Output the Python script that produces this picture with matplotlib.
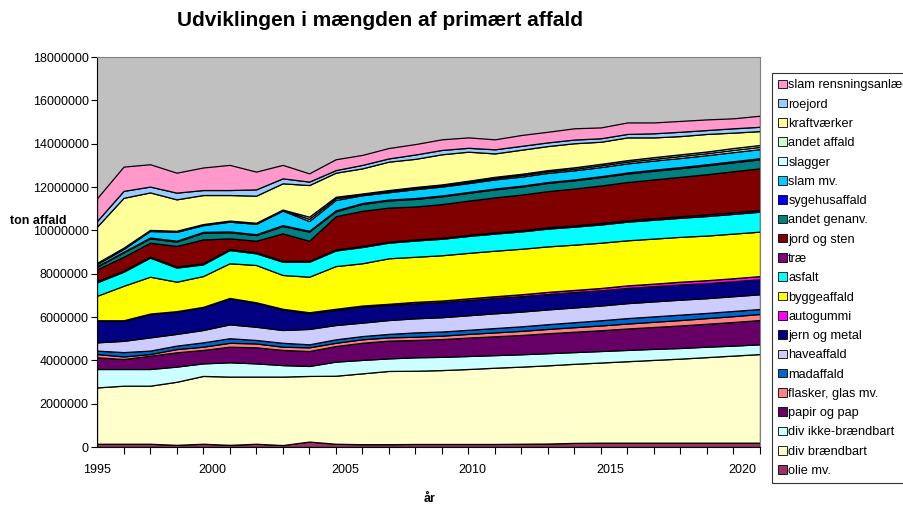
import numpy as np
import matplotlib
matplotlib.use("Agg")
import matplotlib.pyplot as plt
from matplotlib.patches import Patch

plt.rcParams["font.family"] = ["Liberation Sans", "DejaVu Sans"]

years = list(range(1995, 2021))

# tonnes, in thousands
olie = [150, 150, 150, 100, 150, 100, 150, 90, 250, 150, 130, 130, 140, 140, 140, 140, 150, 160, 190, 200, 200, 200, 200, 200, 200, 200]
div_braendbart = [2600, 2680, 2680, 2910, 3130, 3150, 3100, 3160, 3030, 3140, 3270, 3380, 3380, 3410, 3460, 3520, 3560, 3610, 3650, 3700, 3760, 3820, 3880, 3950, 4020, 4090]
div_ikke = [850, 770, 770, 700, 580, 660, 610, 530, 460, 650, 620, 580, 620, 610, 600, 580, 570, 560, 540, 530, 520, 510, 490, 480, 460, 450]
papir = [540, 460, 610, 660, 620, 720, 740, 700, 690, 720, 790, 820, 800, 820, 850, 870, 890, 920, 940, 960, 990, 1010, 1040, 1060, 1090, 1120]
flasker = [150, 120, 80, 150, 150, 180, 180, 150, 170, 150, 160, 150, 150, 160, 170, 180, 190, 200, 210, 220, 230, 240, 250, 260, 270, 280]
madaffald = [160, 200, 160, 160, 200, 210, 160, 180, 140, 160, 150, 160, 200, 190, 190, 200, 210, 220, 230, 240, 250, 250, 250, 240, 240, 230]
haveaffald = [380, 520, 610, 540, 570, 640, 610, 590, 710, 660, 620, 640, 650, 660, 670, 680, 680, 680, 680, 680, 690, 690, 690, 680, 680, 680]
jern = [1000, 930, 1080, 1030, 1050, 1200, 1110, 950, 720, 700, 740, 690, 690, 700, 700, 710, 710, 710, 710, 700, 700, 700, 700, 690, 690, 690]
autogummi = [20, 20, 20, 20, 20, 20, 20, 30, 50, 50, 50, 60, 70, 70, 80, 80, 90, 100, 100, 110, 120, 120, 130, 140, 140, 150]
bygge = [1130, 1590, 1700, 1360, 1420, 1600, 1720, 1560, 1640, 1970, 1950, 2100, 2080, 2090, 2100, 2100, 2100, 2100, 2090, 2090, 2080, 2080, 2070, 2060, 2060, 2050]
asfalt = [620, 650, 880, 650, 540, 610, 540, 610, 690, 720, 750, 720, 750, 760, 780, 790, 800, 820, 830, 840, 860, 870, 880, 900, 910, 920]
trae = [50, 50, 50, 50, 50, 50, 50, 50, 50, 50, 50, 50, 50, 50, 50, 60, 60, 60, 60, 70, 70, 70, 70, 80, 80, 80]
jord = [550, 640, 640, 950, 1100, 490, 530, 1260, 920, 1530, 1620, 1570, 1520, 1550, 1580, 1610, 1640, 1670, 1700, 1730, 1760, 1790, 1820, 1850, 1890, 1920]
andet_genanv = [120, 200, 200, 200, 310, 280, 260, 340, 420, 230, 320, 330, 350, 360, 360, 370, 370, 380, 380, 390, 390, 400, 400, 410, 410, 420]
sygehus = [30, 30, 40, 40, 40, 40, 40, 40, 40, 40, 40, 40, 40, 40, 40, 40, 40, 40, 40, 40, 50, 50, 50, 50, 50, 50]
slam_mv = [100, 130, 300, 410, 310, 450, 480, 670, 450, 480, 360, 340, 410, 410, 410, 420, 420, 420, 420, 420, 420, 420, 420, 420, 420, 420]
slagger = [30, 30, 30, 30, 30, 30, 30, 30, 100, 80, 40, 50, 50, 50, 60, 60, 70, 70, 70, 80, 80, 80, 90, 90, 100, 100]
andet_affald = [20, 30, 20, 20, 20, 20, 20, 20, 100, 70, 40, 50, 50, 50, 50, 60, 60, 60, 70, 70, 70, 80, 80, 80, 90, 90]
kraftvaerker = [1670, 2300, 1730, 1450, 1340, 1180, 1250, 1210, 1460, 1110, 1160, 1310, 1300, 1390, 1340, 1080, 1110, 1110, 1110, 1020, 1050, 910, 840, 810, 710, 640]
roejord = [260, 320, 270, 310, 230, 230, 290, 230, 160, 120, 160, 150, 200, 200, 180, 190, 180, 170, 170, 160, 160, 190, 200, 180, 200, 200]
slam_rens = [1050, 1120, 1030, 920, 1040, 1160, 820, 620, 380, 500, 460, 480, 480, 490, 480, 460, 500, 490, 520, 500, 530, 500, 500, 490, 460, 510]

series = [
    ("olie mv.", olie, "#993366"),
    ("div brændbart", div_braendbart, "#FFFFCC"),
    ("div ikke-brændbart", div_ikke, "#CCFFFF"),
    ("papir og pap", papir, "#660066"),
    ("flasker, glas mv.", flasker, "#FF8080"),
    ("madaffald", madaffald, "#0066CC"),
    ("haveaffald", haveaffald, "#CCCCFF"),
    ("jern og metal", jern, "#000080"),
    ("autogummi", autogummi, "#FF00FF"),
    ("byggeaffald", bygge, "#FFFF00"),
    ("asfalt", asfalt, "#00FFFF"),
    ("træ", trae, "#800080"),
    ("jord og sten", jord, "#800000"),
    ("andet genanv.", andet_genanv, "#008080"),
    ("sygehusaffald", sygehus, "#0000FF"),
    ("slam mv.", slam_mv, "#00CCFF"),
    ("slagger", slagger, "#CCFFFF"),
    ("andet affald", andet_affald, "#CCFFCC"),
    ("kraftværker", kraftvaerker, "#FFFF99"),
    ("roejord", roejord, "#99CCFF"),
    ("slam rensningsanlæg", slam_rens, "#FF99CC"),
]

label_years = [1995, 2000, 2005, 2010, 2015, 2020]
label_pos = [0, 4.34, 9.35, 14.14, 19.34, 24.32]

fig = plt.figure(figsize=(9.04, 5.05), dpi=100)
ax = fig.add_axes([97 / 904, 58 / 505, 663 / 904, 390 / 505])
ax.set_facecolor("#C0C0C0")

x = np.arange(len(years))
ys = [np.array(v) * 1000 for _, v, _ in series]
ax.stackplot(x, ys, colors=[c for _, _, c in series], edgecolor="black", linewidth=0.9)

ax.set_xlim(0, len(years) - 1)
ax.set_ylim(0, 18000000)
ax.set_yticks(np.arange(0, 18000001, 2000000))
ax.set_yticklabels([str(v) for v in range(0, 18000001, 2000000)], fontsize=9)
ax.tick_params(axis="y", length=4, width=0.8, pad=2)

ax.set_xticks(x, minor=True)
ax.set_xticks(label_pos)
ax.set_xticklabels([str(y) for y in label_years], fontsize=9)
ax.tick_params(axis="x", which="major", length=0, pad=12)
ax.tick_params(axis="x", which="minor", length=5, width=0.8)

for side in ["top", "right"]:
    ax.spines[side].set_color("#808080")
for side in ["left", "bottom"]:
    ax.spines[side].set_color("black")

fig.text(380 / 904, 1 - 20 / 505, "Udviklingen i mængden af primært affald",
         ha="center", va="center", fontsize=15, fontweight="bold")
fig.text(10 / 904, 1 - 221 / 505, "ton affald", ha="left", va="center",
         fontsize=9, fontweight="bold")
fig.text(430 / 904, 1 - 499 / 505, "år", ha="center", va="center",
         fontsize=9, fontweight="bold")

handles = [Patch(facecolor=c, edgecolor="black", linewidth=0.6, label=n)
           for n, _, c in reversed(series)]
leg = fig.legend(handles=handles, loc="upper left",
                 bbox_to_anchor=(772 / 904, 1 - 73 / 505), fontsize=9.2,
                 frameon=True, fancybox=False, edgecolor="black",
                 handlelength=0.65, handleheight=0.65, handletextpad=0.12,
                 labelspacing=0.57, borderpad=0.5, borderaxespad=0)
leg.get_frame().set_linewidth(0.8)

fig.savefig("out.png", dpi=100)
